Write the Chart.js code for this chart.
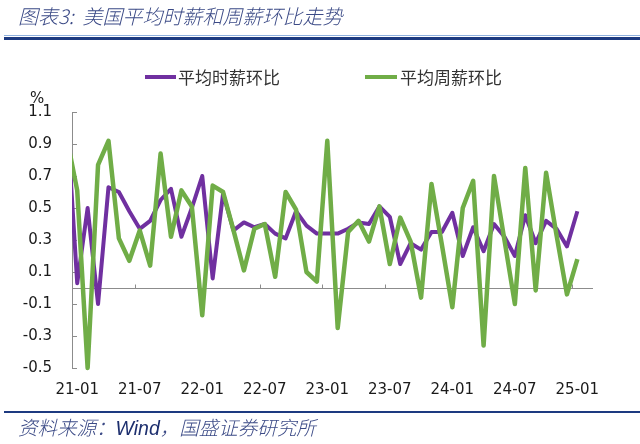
<!DOCTYPE html>
<html><head><meta charset="utf-8">
<script src="https://cdn.jsdelivr.net/npm/chart.js@4.4.1/dist/chart.umd.min.js"></script>
<style>
html,body{margin:0;padding:0;background:#fff;}
#wrap{position:relative;width:640px;height:444px;overflow:hidden;background:#fff;}
canvas{position:absolute;left:0;top:0;}
.t{position:absolute;white-space:nowrap;}
.cjk{font-family:"Noto Sans CJK SC","Noto Sans",sans-serif;}
#title{left:18px;top:4px;font-size:20px;line-height:24px;color:#3b4a86;font-style:italic;font-weight:300;}
#hl1{position:absolute;left:4px;top:35px;width:636px;height:1px;background:#8fb0dd;}
#hl2{position:absolute;left:4px;top:37px;width:636px;height:3px;background:#1d3a80;}
#fl{position:absolute;left:4px;top:411px;width:636px;height:2px;background:#1d3a80;}
#foot{left:18px;top:415px;font-size:19.5px;line-height:24px;color:#3b4a86;font-style:italic;font-weight:300;}
#foot .w{font-family:"Liberation Sans",Arial,sans-serif;font-weight:400;color:#1d2f6e;}
.lg{position:absolute;height:4px;top:75px;}
.lt{top:66px;font-size:17px;line-height:22px;color:#333;}
#pct{left:30px;top:89px;font-family:"DejaVu Sans",sans-serif;font-size:15px;line-height:18px;color:#1a1a1a;}
</style></head><body>
<div id="wrap">
<canvas id="c" width="640" height="444"></canvas>
<div class="t cjk" id="title">图表3:&nbsp;&nbsp;美国平均时薪和周薪环比走势</div>
<div id="hl1"></div><div id="hl2"></div>
<div class="lg" id="lg1"></div><div class="t cjk lt" id="lt1"></div>
<div class="lg" id="lg2"></div><div class="t cjk lt" id="lt2"></div>
<div class="t" id="pct">%</div>
<div id="fl"></div>
<div class="t cjk" id="foot">资料来源：<span class="w">Wind</span>，国盛证券研究所</div>
</div>
<script>
// categories (first month is only partly visible at the left edge)
const months = ['20-12',
 '21-01','21-02','21-03','21-04','21-05','21-06','21-07','21-08','21-09','21-10','21-11','21-12',
 '22-01','22-02','22-03','22-04','22-05','22-06','22-07','22-08','22-09','22-10','22-11','22-12',
 '23-01','23-02','23-03','23-04','23-05','23-06','23-07','23-08','23-09','23-10','23-11','23-12',
 '24-01','24-02','24-03','24-04','24-05','24-06','24-07','24-08','24-09','24-10','24-11','24-12',
 '25-01'];
const hourly = [1.08,
 0.03,0.50,-0.10,0.63,0.60,0.48,0.37,0.42,0.55,0.62,0.32,0.50,
 0.70,0.06,0.59,0.36,0.41,0.38,0.40,0.34,0.31,0.48,0.39,0.34,
 0.34,0.34,0.37,0.41,0.40,0.51,0.445,0.15,0.28,0.24,0.35,0.35,
 0.47,0.20,0.38,0.23,0.40,0.32,0.20,0.455,0.28,0.42,0.37,0.26,
 0.48];
const weekly = [0.94,
 0.61,-0.50,0.77,0.92,0.31,0.17,0.36,0.14,0.84,0.32,0.61,0.51,
 -0.17,0.64,0.60,0.36,0.11,0.37,0.40,0.07,0.60,0.49,0.10,0.04,
 0.92,-0.25,0.35,0.42,0.29,0.51,0.15,0.44,0.29,-0.06,0.65,0.27,
 -0.12,0.50,0.67,-0.36,0.70,0.30,-0.10,0.75,-0.015,0.72,0.33,-0.04,
 0.18];
const tickLabels = ['21-01','21-07','22-01','22-07','23-01','23-07','24-01','24-07','25-01'];
const seriesNames = ['平均时薪环比','平均周薪环比'];
const colors = ['#7030A0','#70AD47'];

const base = months.indexOf('21-01');
const pts = arr => arr.map((v,i)=>({x:i-base, y:v}));
const tickIdx = tickLabels.map(l=>months.indexOf(l)-base);

document.getElementById('lt1').textContent = seriesNames[0];
document.getElementById('lt2').textContent = seriesNames[1];
const lg1=document.getElementById('lg1'), lg2=document.getElementById('lg2');
lg1.style.cssText+='left:145px;width:31px;background:'+colors[0];
lg2.style.cssText+='left:365px;width:32px;background:'+colors[1];
document.getElementById('lt1').style.left='178px';
document.getElementById('lt2').style.left='400px';

const axisMarks = {
  id:'axisMarks',
  beforeDatasetsDraw(chart){
    const {ctx, chartArea:a, scales:{x,y}} = chart;
    ctx.save();
    ctx.strokeStyle='#8c8c8c'; ctx.lineWidth=1;
    ctx.beginPath();
    const y0 = Math.round(y.getPixelForValue(0))+0.5;
    ctx.moveTo(a.left, y0); ctx.lineTo(a.right, y0);
    const bounds = tickIdx.map(v=>v-0.5);
    bounds.forEach(v=>{const px=Math.round(x.getPixelForValue(v))+0.5; ctx.moveTo(px,y0); ctx.lineTo(px,y0-4);});
    y.ticks.forEach(t=>{const py=Math.round(y.getPixelForValue(t.value))+0.5; ctx.moveTo(a.left,py); ctx.lineTo(a.left+5,py);});
    ctx.stroke();
    ctx.restore();
  }
};

new Chart(document.getElementById('c'), {
  type:'line',
  data:{datasets:[
    {label:seriesNames[0], data:pts(hourly), borderColor:colors[0], borderWidth:4, order:2},
    {label:seriesNames[1], data:pts(weekly), borderColor:colors[1], borderWidth:4.5, order:1}
  ]},
  options:{
    responsive:false, animation:false, devicePixelRatio:1,
    layout:{padding:{top:112,right:47,bottom:0,left:0}},
    elements:{point:{radius:0,hoverRadius:0},line:{tension:0,borderJoinStyle:'round',borderCapStyle:'butt'}},
    datasets:{line:{clip:{left:0,right:0,top:6,bottom:6}}},
    plugins:{legend:{display:false},tooltip:{enabled:false},title:{display:false}},
    scales:{
      x:{type:'linear',min:-0.5,max:49.5,
        grid:{display:false,drawTicks:false},border:{display:false},
        afterBuildTicks(s){s.ticks=tickIdx.map(v=>({value:v}));},
        afterFit(s){s.height=76;},
        ticks:{autoSkip:false,maxRotation:0,padding:13,color:'#1a1a1a',
          font:{family:'DejaVu Sans',size:15},
          callback:(v)=>months[v+base]}
      },
      y:{min:-0.5,max:1.1,
        grid:{display:false,drawTicks:false},border:{display:true,color:'#8c8c8c',width:1},
        afterFit(s){s.width=72;},
        ticks:{stepSize:0.2,padding:20,color:'#1a1a1a',font:{family:'DejaVu Sans',size:15},
          callback:(v)=>Number(v).toFixed(1)}
      }
    }
  },
  plugins:[axisMarks]
});
</script>
</body></html>
